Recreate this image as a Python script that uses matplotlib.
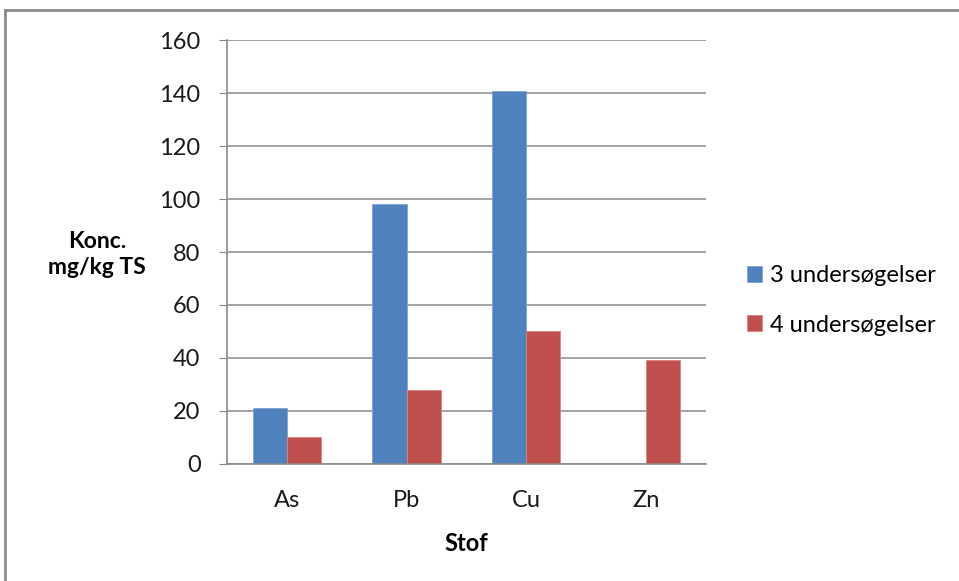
import matplotlib.pyplot as plt
from matplotlib.lines import Line2D
import numpy as np

# concentrations per substance, two survey groups
stoffer = ["As", "Pb", "Cu", "Zn"]
us3 = [21, 98, 141, 0]
us4 = [10, 28, 50, 39]
series_names = ["3 undersøgelser", "4 undersøgelser"]
yticks = [0, 20, 40, 60, 80, 100, 120, 140, 160]

plt.rcParams['font.family'] = ['Lato', 'DejaVu Sans']

fig = plt.figure(figsize=(9.59, 5.81), dpi=100)
ax = fig.add_axes([0.2367, 0.2019, 0.4992, 0.7287])

x = np.arange(len(stoffer))
w = 1 / 3.5
b1 = ax.bar(x - w / 2, us3, w, color="#4F81BD", edgecolor="#7fa3d3", linewidth=0.6)
b2 = ax.bar(x + w / 2, us4, w, color="#C0504D", edgecolor="#d98482", linewidth=0.6)

ax.set_xlim(-0.5, 3.5)
ax.set_ylim(0, 160)
ax.set_yticks(yticks)
ax.set_xticks(x)
ax.set_xticklabels(stoffer)
ax.yaxis.grid(True, color="#8a8a8a", linewidth=1.1)
ax.set_axisbelow(True)

for s in ["top", "right"]:
    ax.spines[s].set_visible(False)
for s in ["left", "bottom"]:
    ax.spines[s].set_color("#8a8a8a")
    ax.spines[s].set_linewidth(1.2)

ax.tick_params(axis="y", length=6, color="#8a8a8a", pad=13, labelsize=17, labelcolor="#1a1a1a")
ax.tick_params(axis="x", length=0, pad=19, labelsize=17, labelcolor="#1a1a1a")

fig.text(0.101, 0.562, "Konc.\nmg/kg TS", ha="center", va="center",
         fontsize=16.5, fontweight="bold", linespacing=1.3)
ax.set_xlabel("Stof", fontsize=17, fontweight="bold", labelpad=15)

fig.legend([b1, b2], series_names, loc="center left",
           bbox_to_anchor=(0.767, 0.483), frameon=False, fontsize=17,
           handlelength=0.64, handleheight=0.64, handletextpad=0.3,
           labelspacing=1.2, borderpad=0)

# outer chart frame
fig.add_artist(Line2D([5 / 959, 1], [1 - 10 / 581, 1 - 10 / 581],
                      transform=fig.transFigure, color="#8c8c8c", linewidth=2))
fig.add_artist(Line2D([5 / 959, 5 / 959], [0, 1 - 10 / 581],
                      transform=fig.transFigure, color="#8c8c8c", linewidth=2))

fig.savefig("out.png", dpi=100)
